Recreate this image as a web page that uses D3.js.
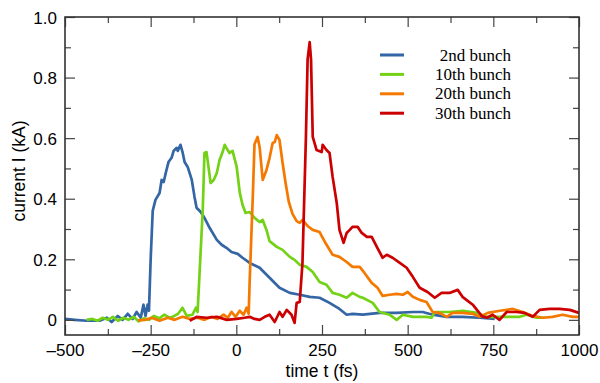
<!DOCTYPE html>
<html>
<head>
<meta charset="utf-8">
<script src="https://cdn.jsdelivr.net/npm/d3@7"></script>
<style>
  body { margin: 0; background: #fff; }
  svg { display: block; }
  .tick-label { font-family: "Liberation Sans", Arial, sans-serif; font-size: 17px; fill: #000; }
  .axis-title { font-family: "Liberation Sans", Arial, sans-serif; font-size: 17.5px; fill: #000; }
  .legend-label { font-family: "Liberation Serif", "Times New Roman", serif; font-size: 17px; fill: #000; }
</style>
</head>
<body>
<div id="chart"></div>
<script>
// time t (fs), current I (kA)
const bunch2 = [
  [-500,0.003],[-472,0],[-437,-0.003],[-399,-0.003],[-378,0.007],[-364,-0.007],[-346,0.013],[-332,0],
  [-317,0.02],[-303,0.003],[-291,0.026],[-279,0.007],[-271,0.05],[-265,0.013],[-259,0.05],[-255,0.03],
  [-250,0.2],[-244,0.36],[-236,0.396],[-224,0.419],[-218,0.462],[-212,0.455],[-206,0.485],[-198,0.521],
  [-189,0.535],[-183,0.558],[-174,0.568],[-171,0.558],[-163,0.578],[-157,0.554],[-151,0.521],[-142,0.505],
  [-130,0.462],[-122,0.406],[-116,0.37],[-104,0.356],[-93,0.337],[-78,0.304],[-57,0.264],[-43,0.248],
  [-29,0.238],[-14,0.224],[4,0.218],[18,0.205],[39,0.188],[68,0.172],[97,0.139],[126,0.106],
  [156,0.089],[185,0.083],[214,0.076],[243,0.073],[272,0.056],[301,0.036],[322,0.017],[339,0.02],
  [369,0.017],[418,0.023],[468,0.023],[515,0.026],[544,0.026],[573,0.017],[614,0.01],[660,0.01],
  [710,0.007],[754,0.003]
];
const bunch10 = [
  [-437,0],[-420,0.003],[-405,-0.003],[-390,0.007],[-375,0],[-360,0.01],[-345,-0.003],[-330,0.007],
  [-315,0],[-300,0.01],[-285,-0.005],[-270,0.005],[-255,0],[-240,0.013],[-225,0.005],[-210,0.017],
  [-195,0.007],[-186,0.01],[-170,0.02],[-157,0.04],[-145,0.013],[-128,0.017],[-118,0.04],[-113,0.026],
  [-98,0.363],[-93,0.551],[-87,0.554],[-75,0.452],[-66,0.462],[-57,0.485],[-49,0.528],[-40,0.554],
  [-34,0.578],[-29,0.568],[-20,0.551],[-11,0.558],[1,0.505],[10,0.42],[18,0.38],[27,0.353],
  [39,0.356],[53,0.337],[68,0.323],[77,0.33],[88,0.297],[97,0.26],[118,0.241],[135,0.231],
  [156,0.208],[170,0.198],[185,0.182],[205,0.175],[223,0.158],[243,0.125],[263,0.116],[281,0.089],
  [301,0.083],[322,0.073],[339,0.089],[360,0.076],[369,0.073],[398,0.056],[418,0.026],[447,0.017],
  [468,0],[486,0.017],[515,0.01],[555,0.01],[570,0.007],[579,0.026],[622,0.026],[661,0.03],
  [702,0.023],[731,0.01],[760,0.01],[797,0.01],[827,0.01],[847,0.017],[876,0.007],[900,0.007]
];
const bunch20 = [
  [-287,-0.002],[-267,0],[-247,0.007],[-224,-0.003],[-200,0.007],[-180,0],[-157,0.01],[-136,0.003],
  [-113,0.007],[-93,0],[-72,0.01],[-55,0.003],[-37,0.017],[-25,0.007],[-14,0.026],[-2,0.01],
  [10,0.03],[21,0.017],[30,0.04],[36,0.02],[39,0.13],[48,0.406],[53,0.58],[62,0.604],
  [68,0.57],[77,0.462],[88,0.495],[97,0.535],[106,0.584],[112,0.587],[118,0.61],[126,0.594],
  [135,0.518],[144,0.45],[153,0.39],[164,0.35],[176,0.326],[185,0.32],[193,0.33],[208,0.31],
  [223,0.297],[243,0.29],[258,0.258],[281,0.215],[301,0.208],[322,0.191],[339,0.175],[360,0.175],
  [374,0.155],[395,0.122],[412,0.106],[427,0.079],[447,0.083],[468,0.086],[486,0.083],[500,0.092],
  [515,0.076],[535,0.066],[555,0.059],[573,0.026],[593,0.023],[614,0.01],[631,0.023],[660,0.023],
  [690,0.02],[710,0.01],[734,0.023],[769,0.03],[807,0.036],[836,0.026],[865,0.013],[894,0.007],
  [923,0.01],[952,0.017],[982,0.01],[1000,0.01]
];
const bunch30 = [
  [-136,-0.003],[-116,0.01],[-87,0.007],[-57,0.01],[-28,0],[1,0.003],[24,0.007],[39,0.01],
  [53,0.003],[68,0],[83,0.01],[97,0.017],[112,-0.007],[126,0.026],[135,0.01],[147,0.033],
  [161,0.017],[170,-0.01],[176,0.056],[185,0.059],[193,0.188],[203,0.6],[208,0.86],[214,0.917],
  [218,0.86],[223,0.604],[234,0.561],[249,0.554],[252,0.578],[263,0.561],[272,0.551],[281,0.472],
  [293,0.386],[301,0.297],[313,0.254],[322,0.287],[331,0.297],[339,0.307],[354,0.307],[366,0.287],
  [381,0.274],[395,0.274],[410,0.241],[427,0.205],[439,0.215],[456,0.205],[477,0.188],[497,0.172],
  [515,0.142],[535,0.106],[558,0.092],[579,0.073],[599,0.089],[622,0.089],[646,0.099],[660,0.076],
  [690,0.05],[716,0.013],[731,0.007],[748,0.017],[768,0],[789,0.026],[818,0.026],[841,0.023],
  [865,0.01],[885,0.033],[914,0.036],[943,0.036],[973,0.033],[1000,0.023]
];

const seriesNames = ["2nd bunch", "10th bunch", "20th bunch", "30th bunch"];
const seriesData = [bunch2, bunch10, bunch20, bunch30];
const seriesColors = ["#3465a4", "#73d216", "#f57900", "#cc0000"];

const xMajorTicks = [-500, -250, 0, 250, 500, 750, 1000];
const xMinorTicks = [-375, -125, 125, 375, 625, 875];
const yMajorTicks = [0, 0.2, 0.4, 0.6, 0.8, 1.0];
const yMinorTicks = [0.1, 0.3, 0.5, 0.7, 0.9];

const width = 600, height = 383;
const margin = { left: 65, right: 21, top: 17, bottom: 48 };
const plotW = width - margin.left - margin.right;
const plotH = height - margin.top - margin.bottom;

const svg = d3.select("#chart").append("svg")
  .attr("width", width)
  .attr("height", height);

const chart = svg.append("g")
  .attr("transform", `translate(${margin.left},${margin.top})`);

const xScale = d3.scaleLinear().domain([-500, 1000]).range([0, plotW]);
const yScale = d3.scaleLinear().domain([-0.05, 1.0]).range([plotH, 0]);

// data lines
const line = d3.line()
  .x(d => xScale(d[0]))
  .y(d => yScale(d[1]));

chart.selectAll("path.series")
  .data(seriesData)
  .join("path")
  .attr("class", "series")
  .attr("d", d => line(d))
  .attr("fill", "none")
  .attr("stroke", (d, i) => seriesColors[i])
  .attr("stroke-width", 2.7)
  .attr("stroke-linejoin", "round");

// inward ticks on all four sides
const tickColor = "#444";
const fmtX = d => d < 0 ? "\u2013" + Math.abs(d) : String(d);
const fmtY = d => d === 0 ? "0" : d3.format(".1f")(d);

const axisBottom = d3.axisBottom(xScale).tickValues(xMajorTicks).tickSize(-10).tickFormat(fmtX);
const axisTop = d3.axisTop(xScale).tickValues(xMajorTicks).tickSize(-10).tickFormat("");
const axisLeft = d3.axisLeft(yScale).tickValues(yMajorTicks).tickSize(-10).tickFormat(fmtY);
const axisRight = d3.axisRight(yScale).tickValues(yMajorTicks).tickSize(-10).tickFormat("");

const gx = chart.append("g").attr("transform", `translate(0,${plotH})`).call(axisBottom);
chart.append("g").call(axisTop);
const gy = chart.append("g").call(axisLeft);
chart.append("g").attr("transform", `translate(${plotW},0)`).call(axisRight);

chart.append("g").attr("transform", `translate(0,${plotH})`)
  .call(d3.axisBottom(xScale).tickValues(xMinorTicks).tickSize(-6).tickFormat(""));
chart.append("g")
  .call(d3.axisTop(xScale).tickValues(xMinorTicks).tickSize(-6).tickFormat(""));
chart.append("g")
  .call(d3.axisLeft(yScale).tickValues(yMinorTicks).tickSize(-6).tickFormat(""));
chart.append("g").attr("transform", `translate(${plotW},0)`)
  .call(d3.axisRight(yScale).tickValues(yMinorTicks).tickSize(-6).tickFormat(""));

chart.selectAll(".domain").remove();
chart.selectAll(".tick line").attr("stroke", tickColor).attr("stroke-width", 1.2);
chart.selectAll(".tick text").attr("class", "tick-label").attr("font-family", null).attr("font-size", null);
gx.selectAll("text").attr("dy", "0em").attr("y", 21);
gy.selectAll("text").attr("x", -8).attr("dy", "0.36em");

// frame
chart.append("rect")
  .attr("x", 0).attr("y", 0)
  .attr("width", plotW).attr("height", plotH)
  .attr("fill", "none")
  .attr("stroke", "#333")
  .attr("stroke-width", 1.6);

// axis titles
svg.append("text")
  .attr("class", "axis-title")
  .attr("x", margin.left + plotW / 2)
  .attr("y", 377)
  .attr("text-anchor", "middle")
  .text("time t (fs)");

svg.append("text")
  .attr("class", "axis-title")
  .attr("transform", `translate(25,${margin.top + plotH / 2 - 5}) rotate(-90)`)
  .attr("text-anchor", "middle")
  .text("current I (kA)");

// legend
const legend = chart.append("g").attr("transform", "translate(315,38)");
const legendItem = legend.selectAll("g")
  .data(seriesNames)
  .join("g")
  .attr("transform", (d, i) => `translate(0,${i * 19.4})`);

legendItem.append("line")
  .attr("x1", 0).attr("x2", 24)
  .attr("y1", 0).attr("y2", 0)
  .attr("stroke", (d, i) => seriesColors[i])
  .attr("stroke-width", 3);

legendItem.append("text")
  .attr("class", "legend-label")
  .attr("x", 131)
  .attr("y", 5.5)
  .attr("text-anchor", "end")
  .text(d => d);
</script>
</body>
</html>
